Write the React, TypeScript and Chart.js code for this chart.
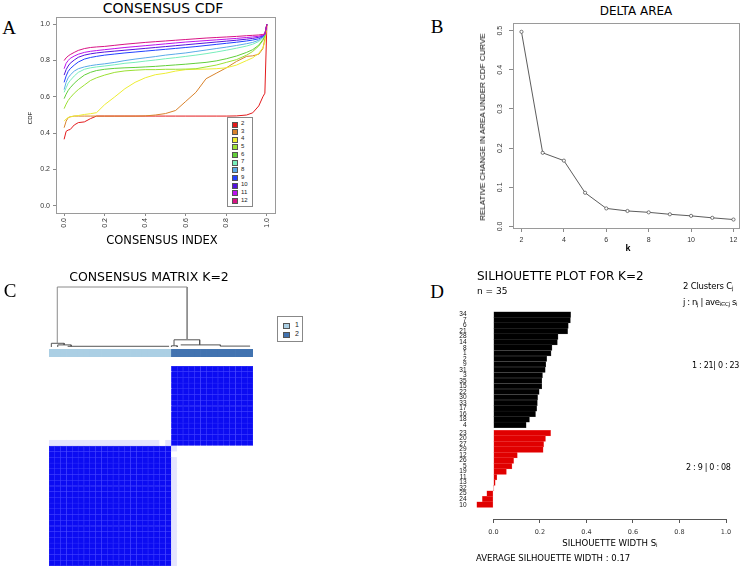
import React, { useEffect, useRef } from "react";
import { Chart, registerables } from "chart.js";
Chart.register(...registerables);

const SANS = '"Liberation Sans", Arial, sans-serif';
const GEO = '"DejaVu Sans", sans-serif';
const SERIF = '"Liberation Serif", "Times New Roman", serif';

/* ---------------- Panel A : consensus CDF ---------------- */
const cdfX = [0, 0.01, 0.02, 0.03, 0.05, 0.07, 0.1, 0.13, 0.16, 0.2, 0.25, 0.3, 0.35, 0.4, 0.45, 0.5, 0.55, 0.6, 0.65, 0.7, 0.75, 0.8, 0.85, 0.9, 0.93, 0.96, 0.98, 0.99, 1.0];
const cdfK = ["2", "3", "4", "5", "6", "7", "8", "9", "10", "11", "12"];
const cdfColors = ["#e31a1c", "#d9822b", "#eded33", "#9be033", "#62cf3a", "#77eebb", "#5aaae8", "#2240ff", "#5512dd", "#bb11ee", "#d81384"];
const cdf2 = [0.366, 0.41, 0.417, 0.42, 0.445, 0.458, 0.462, 0.48, 0.494, 0.494, 0.494, 0.494, 0.494, 0.494, 0.494, 0.494, 0.494, 0.494, 0.494, 0.494, 0.494, 0.494, 0.495, 0.5, 0.512, 0.55, 0.6, 0.62, 1.0];
const cdf3 = [0.43, 0.466, 0.485, 0.49, 0.494, 0.494, 0.494, 0.494, 0.494, 0.494, 0.494, 0.494, 0.494, 0.495, 0.5, 0.508, 0.525, 0.575, 0.625, 0.7, 0.73, 0.76, 0.795, 0.823, 0.826, 0.835, 0.865, 0.92, 1.0];
const cdf4 = [0.466, 0.478, 0.486, 0.49, 0.494, 0.497, 0.503, 0.507, 0.513, 0.557, 0.6, 0.645, 0.68, 0.705, 0.722, 0.73, 0.742, 0.75, 0.752, 0.753, 0.755, 0.76, 0.775, 0.8, 0.815, 0.84, 0.87, 0.9, 1.0];
const cdf5 = [0.535, 0.56, 0.58, 0.595, 0.62, 0.64, 0.665, 0.69, 0.705, 0.72, 0.735, 0.743, 0.747, 0.75, 0.75, 0.752, 0.752, 0.753, 0.755, 0.765, 0.775, 0.79, 0.805, 0.83, 0.85, 0.88, 0.91, 0.935, 1.0];
const cdf6 = [0.59, 0.615, 0.635, 0.65, 0.675, 0.695, 0.72, 0.735, 0.745, 0.752, 0.757, 0.76, 0.762, 0.765, 0.768, 0.772, 0.776, 0.78, 0.785, 0.79, 0.798, 0.81, 0.825, 0.845, 0.86, 0.885, 0.915, 0.94, 1.0];
const cdf7 = [0.625, 0.65, 0.675, 0.69, 0.715, 0.735, 0.752, 0.76, 0.765, 0.77, 0.777, 0.785, 0.79, 0.797, 0.803, 0.81, 0.816, 0.823, 0.83, 0.838, 0.847, 0.857, 0.868, 0.88, 0.89, 0.905, 0.925, 0.945, 1.0];
const cdf8 = [0.64, 0.68, 0.705, 0.72, 0.742, 0.755, 0.765, 0.772, 0.777, 0.782, 0.79, 0.8, 0.808, 0.815, 0.822, 0.83, 0.836, 0.842, 0.85, 0.858, 0.866, 0.874, 0.883, 0.893, 0.9, 0.912, 0.928, 0.945, 1.0];
const cdf9 = [0.68, 0.715, 0.74, 0.755, 0.775, 0.792, 0.808, 0.817, 0.823, 0.83, 0.836, 0.842, 0.847, 0.852, 0.857, 0.862, 0.867, 0.872, 0.877, 0.883, 0.889, 0.895, 0.901, 0.908, 0.913, 0.92, 0.932, 0.945, 1.0];
const cdf10 = [0.72, 0.75, 0.77, 0.785, 0.803, 0.818, 0.83, 0.837, 0.842, 0.847, 0.852, 0.857, 0.862, 0.867, 0.872, 0.877, 0.882, 0.887, 0.892, 0.897, 0.902, 0.907, 0.912, 0.918, 0.922, 0.928, 0.936, 0.945, 1.0];
const cdf11 = [0.755, 0.785, 0.8, 0.812, 0.825, 0.835, 0.845, 0.851, 0.855, 0.86, 0.866, 0.872, 0.877, 0.882, 0.887, 0.892, 0.897, 0.902, 0.906, 0.91, 0.914, 0.918, 0.922, 0.927, 0.93, 0.934, 0.939, 0.945, 1.0];
const cdf12 = [0.8, 0.815, 0.825, 0.833, 0.845, 0.856, 0.866, 0.872, 0.875, 0.878, 0.884, 0.89, 0.895, 0.9, 0.904, 0.908, 0.912, 0.916, 0.92, 0.924, 0.927, 0.93, 0.933, 0.937, 0.939, 0.941, 0.944, 0.947, 1.0];
const cdfTicks = [0, 0.2, 0.4, 0.6, 0.8, 1.0];

/* ---------------- Panel B : delta area ---------------- */
const deltaK = [2, 3, 4, 5, 6, 7, 8, 9, 10, 11, 12];
const deltaArea = [0.497, 0.188, 0.168, 0.086, 0.046, 0.0395, 0.036, 0.031, 0.027, 0.022, 0.0176];
const deltaXTicks = [2, 4, 6, 8, 10, 12];
const deltaYTicks = [0, 0.1, 0.2, 0.3, 0.4, 0.5];

/* ---------------- Panel C : consensus matrix ---------------- */
const heatClusters = [1, 1, 1, 1, 1, 1, 1, 1, 1, 1, 1, 1, 1, 1, 1, 1, 1, 1, 1, 1, 1, 2, 2, 2, 2, 2, 2, 2, 2, 2, 2, 2, 2, 2, 2];
const clusterColors = ["#abcfe4", "#4273b0"];
const clusterNames = ["1", "2"];
// consensus (0-9 => 0..1), rows top to bottom, columns left to right
const consensusRows = [
  "0000000 0000000 0000000 9999999 9999999",
  "0000000 0000000 0000000 9999999 9999999",
  "0000000 0000000 0000000 9999999 9999999",
  "0000000 0000000 0000000 9999999 9999999",
  "0000000 0000000 0000000 9999999 9999999",
  "0000000 0000000 0000000 9999999 9999999",
  "0000000 0000000 0000000 9999999 9999999",
  "0000000 0000000 0000000 9999999 9999999",
  "0000000 0000000 0000000 9999999 9999999",
  "0000000 0000000 0000000 9999999 9999999",
  "0000000 0000000 0000000 9999999 9999999",
  "0000000 0000000 0000000 9999999 9999999",
  "0000000 0000000 0000000 9999999 9999999",
  "1111111 1111111 1111101 9999999 9999999",
  "9999999 9999999 9999999 1000000 0000000",
  "9999999 9999999 9999999 0000000 0000000",
  "9999999 9999999 9999999 1000000 0000000",
  "9999999 9999999 9999999 1000000 0000000",
  "9999999 9999999 9999999 1000000 0000000",
  "9999999 9999999 9999999 1000000 0000000",
  "9999999 9999999 9999999 1000000 0000000",
  "9999999 9999999 9999999 1000000 0000000",
  "9999999 9999999 9999999 1000000 0000000",
  "9999999 9999999 9999999 1000000 0000000",
  "9999999 9999999 9999999 1000000 0000000",
  "9999999 9999999 9999999 1000000 0000000",
  "9999999 9999999 9999999 1000000 0000000",
  "9999999 9999999 9999999 1000000 0000000",
  "9999999 9999999 9999999 1000000 0000000",
  "9999999 9999999 9999999 1000000 0000000",
  "9999999 9999999 9999999 1000000 0000000",
  "9999999 9999999 9999999 1000000 0000000",
  "9999999 9999999 9999999 1000000 0000000",
  "9999999 9999999 9999999 1000000 0000000",
  "9999999 9999999 9999999 1000000 0000000",
];
// dendrogram polylines: [leaf position, height]
const dendroLines = [
  [[1.42, 0.062], [1.42, 1], [23.7, 1], [23.7, 0.12]],
  [[0.4, 0], [0.4, 0.062], [2.6, 0.062], [2.6, 0.035]],
  [[1.5, 0], [1.5, 0.035], [3.8, 0.035], [3.8, 0.012]],
  [[3.2, 0.012], [20.6, 0.012]],
  [[21.45, 0.02], [21.45, 0.12], [25.85, 0.12], [25.85, 0.035]],
  [[21.0, 0], [21.0, 0.02], [22.0, 0.02], [22.0, 0]],
  [[22.6, 0.035], [29.4, 0.035]],
  [[29.4, 0.035], [29.4, 0.015], [34.5, 0.015]],
];

/* ---------------- Panel D : silhouette ---------------- */
const silLabels1 = ["34", "7", "6", "21", "28", "14", "8", "1", "2", "9", "31", "3", "35", "15", "22", "30", "33", "17", "16", "18", "4"];
const silVals1 = [0.332, 0.331, 0.322, 0.319, 0.278, 0.275, 0.252, 0.248, 0.229, 0.225, 0.223, 0.211, 0.208, 0.208, 0.197, 0.19, 0.189, 0.186, 0.181, 0.155, 0.141];
const silLabels2 = ["23", "20", "27", "29", "12", "26", "5", "19", "11", "13", "32", "25", "24", "10"];
const silVals2 = [0.246, 0.224, 0.216, 0.214, 0.103, 0.087, 0.08, 0.056, 0.015, 0.008, 0.002, -0.028, -0.047, -0.072];
const silColors = ["#000000", "#e00000"];
const silTicks = [0, 0.2, 0.4, 0.6, 0.8, 1.0];

/* ---------------- helpers ---------------- */
const boxPlugin = {
  id: "plotBox",
  afterDraw(chart: any) {
    const { ctx, chartArea: a } = chart;
    ctx.save();
    ctx.strokeStyle = "#9a9a9a";
    ctx.lineWidth = 1;
    ctx.strokeRect(Math.round(a.left) + 0.5, Math.round(a.top) + 0.5, Math.round(a.right - a.left), Math.round(a.bottom - a.top));
    ctx.restore();
  },
};

const silAxisPlugin = {
  id: "silAxis",
  afterDraw(chart: any) {
    const { ctx, chartArea, scales } = chart;
    const x = scales.x;
    const y = Math.round(chartArea.bottom) + 0.5;
    ctx.save();
    ctx.strokeStyle = "#555";
    ctx.lineWidth = 1;
    ctx.beginPath();
    ctx.moveTo(x.getPixelForValue(0), y);
    ctx.lineTo(x.getPixelForValue(1), y);
    ctx.stroke();
    ctx.restore();
  },
};

const tickGrid = (len: number, color = "#8a8a8a") => ({ display: true, drawOnChartArea: false, drawTicks: true, tickLength: len, color });
const setTicks = (vals: number[]) => (s: any) => {
  s.ticks = vals.map((v) => ({ value: v }));
};

function ChartBox({ left, top, width, height, make }: { left: number; top: number; width: number; height: number; make: () => any }) {
  const ref = useRef<HTMLCanvasElement | null>(null);
  useEffect(() => {
    const chart = new Chart(ref.current as HTMLCanvasElement, make());
    return () => chart.destroy();
  }, []);
  return <canvas ref={ref} width={width} height={height} style={{ position: "absolute", left, top, width, height }} />;
}

function T({ x, y, size, children, anchor = "middle", rot = 0, font = GEO, weight = 400, color = "#000", ls = 0 }: any) {
  const tx = anchor === "middle" ? "-50%" : anchor === "end" ? "-100%" : "0%";
  return (
    <div
      style={{
        position: "absolute",
        left: x,
        top: y,
        transform: `translate(${tx}, -50%) rotate(${rot}deg)`,
        fontFamily: font,
        fontSize: size,
        fontWeight: weight,
        color,
        lineHeight: 1,
        letterSpacing: ls,
        whiteSpace: "nowrap",
      }}
    >
      {children}
    </div>
  );
}

const Sub = ({ children }: any) => <sub style={{ fontSize: "0.65em", verticalAlign: "-0.3em", lineHeight: 0 }}>{children}</sub>;

/* ---------------- chart configs ---------------- */
function makeCdf() {
  const series = [cdf2, cdf3, cdf4, cdf5, cdf6, cdf7, cdf8, cdf9, cdf10, cdf11, cdf12];
  return {
    type: "line",
    data: {
      datasets: series.map((ys, i) => ({
        label: cdfK[i],
        data: cdfX.map((x, j) => ({ x, y: ys[j] })),
        borderColor: cdfColors[i],
        borderWidth: 1,
        pointRadius: 0,
        fill: false,
        tension: 0,
        order: series.length - i,
      })),
    },
    options: {
      responsive: false,
      animation: false,
      layout: { padding: { left: 0, top: 17, right: 15, bottom: 0 } },
      plugins: { legend: { display: false }, tooltip: { enabled: false } },
      scales: {
        x: {
          type: "linear",
          min: -0.04,
          max: 1.04,
          afterBuildTicks: setTicks(cdfTicks),
          afterFit: (s: any) => { s.height = 37; },
          ticks: { minRotation: 90, maxRotation: 90, padding: 2, autoSkip: false, font: { family: SANS, size: 7 }, color: "#333", callback: (v: any) => Number(v).toFixed(1) },
          grid: tickGrid(3),
          border: { display: false },
        },
        y: {
          type: "linear",
          min: -0.04,
          max: 1.04,
          afterBuildTicks: setTicks(cdfTicks),
          afterFit: (s: any) => { s.width = 56; },
          ticks: { padding: 3, autoSkip: false, font: { family: SANS, size: 7 }, color: "#333", callback: (v: any) => Number(v).toFixed(1) },
          grid: tickGrid(3),
          border: { display: false },
        },
      },
    },
    plugins: [boxPlugin],
  };
}

function makeDelta() {
  return {
    type: "line",
    data: {
      datasets: [
        {
          data: deltaK.map((k, i) => ({ x: k, y: deltaArea[i] })),
          borderColor: "#4a4a4a",
          borderWidth: 0.9,
          pointRadius: 1.6,
          pointBorderWidth: 0.7,
          pointBorderColor: "#444",
          pointBackgroundColor: "#fff",
          tension: 0,
        },
      ],
    },
    options: {
      responsive: false,
      animation: false,
      layout: { padding: { left: 0, top: 7, right: 6, bottom: 0 } },
      plugins: { legend: { display: false }, tooltip: { enabled: false } },
      scales: {
        x: {
          type: "linear",
          min: 1.6,
          max: 12.26,
          afterBuildTicks: setTicks(deltaXTicks),
          afterFit: (s: any) => { s.height = 32; },
          ticks: { padding: 4, autoSkip: false, maxRotation: 0, font: { family: SANS, size: 7 }, color: "#333" },
          grid: tickGrid(4),
          border: { display: false },
        },
        y: {
          type: "linear",
          min: -0.004,
          max: 0.519,
          afterBuildTicks: setTicks(deltaYTicks),
          afterFit: (s: any) => { s.width = 83; },
          ticks: { minRotation: 90, maxRotation: 90, crossAlign: "center", padding: 4, autoSkip: false, font: { family: SANS, size: 7 }, color: "#333", callback: (v: any) => Number(v).toFixed(1) },
          grid: tickGrid(4),
          border: { display: false },
        },
      },
    },
    plugins: [boxPlugin],
  };
}

function heatColor(v: number) {
  const r = Math.round(255 - v * (255 - 12));
  const b = Math.round(255 - v * (255 - 242));
  return `rgb(${r},${r},${b})`;
}

function makeHeat() {
  const grid = consensusRows.map((r) => r.replace(/ /g, "").split("").map(Number));
  const n = grid.length;
  const datasets = [];
  for (let k = 0; k < n; k++) {
    const row = grid[n - 1 - k];
    datasets.push({
      data: row.map(() => 1),
      backgroundColor: row.map((d) => heatColor(d / 9)),
      borderColor: row.map((d) => (d >= 5 ? "#4444ff" : "rgba(0,0,0,0)")),
      borderWidth: row.map((d) => (d >= 5 ? 0.5 : 0)),
      borderSkipped: false,
      barPercentage: 1,
      categoryPercentage: 1,
    });
  }
  return {
    type: "bar",
    data: { labels: heatClusters.map((_, i) => String(i + 1)), datasets },
    options: {
      responsive: false,
      animation: false,
      layout: { padding: 0 },
      plugins: { legend: { display: false }, tooltip: { enabled: false } },
      scales: {
        x: { display: false, stacked: true },
        y: { display: false, stacked: true, min: 0, max: n },
      },
    },
  };
}

function makeColorBar() {
  return {
    type: "bar",
    data: {
      labels: heatClusters.map((_, i) => String(i + 1)),
      datasets: [
        {
          data: heatClusters.map(() => 1),
          backgroundColor: heatClusters.map((c) => clusterColors[c - 1]),
          barPercentage: 1,
          categoryPercentage: 1,
        },
      ],
    },
    options: {
      responsive: false,
      animation: false,
      layout: { padding: 0 },
      plugins: { legend: { display: false }, tooltip: { enabled: false } },
      scales: { x: { display: false }, y: { display: false, min: 0, max: 1 } },
    },
  };
}

function makeDendro() {
  return {
    type: "scatter",
    data: {
      datasets: dendroLines.map((pts, i) => ({
        data: pts.map((p) => ({ x: p[0], y: p[1] })),
        showLine: true,
        borderColor: i === 0 ? "#8a8a8a" : "#555",
        borderWidth: 1,
        pointRadius: 0,
        tension: 0,
      })),
    },
    options: {
      responsive: false,
      animation: false,
      layout: { padding: 0 },
      plugins: { legend: { display: false }, tooltip: { enabled: false } },
      scales: {
        x: { type: "linear", display: false, min: 0, max: heatClusters.length },
        y: { type: "linear", display: false, min: -0.0333, max: 1.0667 },
      },
    },
  };
}

function makeSil() {
  const pos1 = silVals1.map((_, i) => i);
  const pos2 = silVals2.map((_, j) => silVals1.length + 0.5 + j);
  const positions = [...pos1, ...pos2];
  const labels = [...silLabels1, ...silLabels2];
  const vals = [...silVals1, ...silVals2];
  const colors = [...silVals1.map(() => silColors[0]), ...silVals2.map(() => silColors[1])];
  const borders = [...silVals1.map(() => "#3a3a3a"), ...silVals2.map(() => "#f25050")];
  return {
    type: "bar",
    data: {
      datasets: [
        {
          data: vals.map((v, i) => ({ x: v, y: positions[i] })),
          backgroundColor: colors,
          borderColor: borders,
          borderWidth: 0.5,
          borderSkipped: false,
          barPercentage: 1,
          categoryPercentage: 1,
        },
      ],
    },
    options: {
      indexAxis: "y",
      responsive: false,
      animation: false,
      layout: { padding: { left: 0, top: 9, right: 19, bottom: 0 } },
      plugins: { legend: { display: false }, tooltip: { enabled: false } },
      scales: {
        x: {
          type: "linear",
          min: Math.min(0, ...vals),
          max: 1,
          afterBuildTicks: setTicks(silTicks),
          afterFit: (s: any) => { s.height = 26; },
          ticks: { padding: 5, autoSkip: false, maxRotation: 0, font: { family: GEO, size: 6.5 }, color: "#333", callback: (v: any) => Number(v).toFixed(1) },
          grid: tickGrid(4, "#555"),
          border: { display: false },
        },
        y: {
          type: "linear",
          reverse: true,
          min: -0.5,
          max: 36.55,
          afterBuildTicks: setTicks(positions),
          afterFit: (s: any) => { s.width = 56.6; },
          ticks: { padding: 10, autoSkip: false, font: { family: SANS, size: 6.5 }, color: "#111", callback: (_v: any, i: number) => labels[i] },
          grid: { display: false, drawTicks: false },
          border: { display: false },
        },
      },
    },
    plugins: [silAxisPlugin],
  };
}

/* ---------------- App ---------------- */
export default function App() {
  return (
    <div style={{ position: "absolute", left: 0, top: 0, width: 745, height: 567, background: "#fff", overflow: "hidden" }}>
      {/* Panel A */}
      <T x={9} y={26.5} size={19} font={SERIF}>A</T>
      <T x={163} y={7.5} size={14}>CONSENSUS CDF</T>
      <ChartBox left={0} top={0} width={290} height={250} make={makeCdf} />
      <T x={30} y={118} size={6} font={SANS} rot={-90}>CDF</T>
      <T x={162} y={241} size={11.5}>CONSENSUS INDEX</T>
      <div style={{ position: "absolute", left: 227, top: 117, width: 26, height: 90, border: "1px solid #888", boxSizing: "border-box", background: "#fff" }}>
        {cdfK.map((k, i) => (
          <React.Fragment key={k}>
            <div style={{ position: "absolute", left: 4, top: 3.5 + i * 7.63, width: 4, height: 4, background: cdfColors[i], border: "0.5px solid #555" }} />
            <div style={{ position: "absolute", left: 13, top: 2.2 + i * 7.63, fontFamily: SANS, fontSize: 6, lineHeight: "7px", color: "#222" }}>{k}</div>
          </React.Fragment>
        ))}
      </div>

      {/* Panel B */}
      <T x={437} y={26} size={19} font={SERIF}>B</T>
      <T x={636} y={11} size={12}>DELTA AREA</T>
      <ChartBox left={430} top={15} width={315} height={245} make={makeDelta} />
      <T x={483} y={127} size={8} font={SANS} rot={-90}>RELATIVE CHANGE IN AREA UNDER CDF CURVE</T>
      <T x={628} y={248} size={9} font={SANS} weight={700}>k</T>

      {/* Panel C */}
      <T x={10} y={290} size={19} font={SERIF}>C</T>
      <T x={149} y={277} size={12.5}>CONSENSUS MATRIX K=2</T>
      <ChartBox left={49} top={283} width={204} height={66} make={makeDendro} />
      <ChartBox left={49} top={349} width={204} height={8} make={makeColorBar} />
      <ChartBox left={49} top={366} width={204} height={200} make={makeHeat} />
      <div style={{ position: "absolute", left: 277, top: 316, width: 26, height: 26, border: "1px solid #888", boxSizing: "border-box", background: "#fff" }}>
        {clusterNames.map((c, i) => (
          <React.Fragment key={c}>
            <div style={{ position: "absolute", left: 5, top: 5.5 + i * 9.5, width: 5, height: 4, background: clusterColors[i], border: "0.5px solid #555" }} />
            <div style={{ position: "absolute", left: 17, top: 3.5 + i * 9.5, fontFamily: SANS, fontSize: 7, lineHeight: "8px", color: "#222" }}>{c}</div>
          </React.Fragment>
        ))}
      </div>

      {/* Panel D */}
      <T x={437} y={291} size={19} font={SERIF}>D</T>
      <T x={477} y={276} size={12} anchor="start">SILHOUETTE PLOT FOR K=2</T>
      <T x={477} y={291} size={9} anchor="start">n = 35</T>
      <T x={683} y={286} size={8.5} anchor="start" ls={-0.2}>2 Clusters C<Sub>j</Sub></T>
      <T x={683} y={302} size={8.5} anchor="start" ls={-0.4}>j : n<Sub>j</Sub> | ave<Sub>i∈Cj</Sub> s<Sub>i</Sub></T>
      <ChartBox left={420} top={295} width={325} height={250} make={makeSil} />
      <T x={692} y={366} size={8} anchor="start" ls={-0.3}>1 : 21| 0 : 23</T>
      <T x={686} y={468} size={8} anchor="start" ls={-0.3}>2 : 9 | 0 : 08</T>
      <T x={610} y={543} size={8.6}>SILHOUETTE WIDTH S<Sub>i</Sub></T>
      <T x={476} y={558} size={8.5} anchor="start">AVERAGE SILHOUETTE WIDTH : 0.17</T>
    </div>
  );
}
